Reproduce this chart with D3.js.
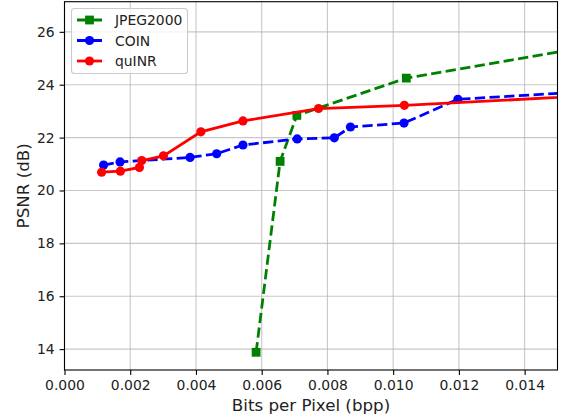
<!DOCTYPE html>
<html>
<head>
<meta charset="utf-8">
<title>PSNR vs bpp</title>
<script src="https://d3js.org/d3.v7.min.js"></script>
<style>
  body { margin: 0; background: #fff; }
  svg { display: block; font-family: "DejaVu Sans", sans-serif; }
</style>
</head>
<body>
<script>
// Data (bpp, PSNR dB)
var jpegX = [0.00583, 0.00656, 0.00707, 0.01040, 0.02090];
var jpegY = [13.88, 21.10, 22.84, 24.25, 26.50];

var coinX = [0.00119, 0.00169, 0.00382, 0.00463, 0.00543, 0.00708, 0.00821, 0.00870, 0.01033, 0.01197, 0.01800];
var coinY = [20.96, 21.08, 21.25, 21.39, 21.72, 21.95, 21.99, 22.40, 22.55, 23.45, 23.89];

var quinrX = [0.00113, 0.00170, 0.00228, 0.00235, 0.00301, 0.00415, 0.00543, 0.00773, 0.01034, 0.02000];
var quinrY = [20.69, 20.73, 20.87, 21.13, 21.31, 22.22, 22.63, 23.10, 23.22, 23.84];

var xTicks = [0, 0.002, 0.004, 0.006, 0.008, 0.010, 0.012, 0.014];
var yTicks = [14, 16, 18, 20, 22, 24, 26];

var series = [
  { name: "JPEG2000", xs: jpegX, ys: jpegY, color: "#008000", dash: "10.3,4.4", marker: "square" },
  { name: "COIN", xs: coinX, ys: coinY, color: "#0000ff", dash: "10.3,4.4", marker: "circle" },
  { name: "quINR", xs: quinrX, ys: quinrY, color: "#ff0000", dash: null, marker: "circle" }
];

var width = 568, height = 419;
var margin = { left: 64.5, right: 10.5, top: 1.7, bottom: 49 };

var svg = d3.select("body").append("svg")
    .attr("width", width)
    .attr("height", height);

var x = d3.scaleLinear().domain([0, 0.015]).range([margin.left, width - margin.right]);
var y = d3.scaleLinear().domain([13.21, 27.14]).range([height - margin.bottom, margin.top]);

// grid
svg.append("g").selectAll("line").data(xTicks).enter().append("line")
    .attr("x1", function(d) { return x(d); }).attr("x2", function(d) { return x(d); })
    .attr("y1", y.range()[0]).attr("y2", y.range()[1])
    .attr("stroke", "#b0b0b0").attr("stroke-opacity", 0.7).attr("stroke-width", 1.1);
svg.append("g").selectAll("line").data(yTicks).enter().append("line")
    .attr("y1", function(d) { return y(d); }).attr("y2", function(d) { return y(d); })
    .attr("x1", x.range()[0]).attr("x2", x.range()[1])
    .attr("stroke", "#b0b0b0").attr("stroke-opacity", 0.7).attr("stroke-width", 1.1);

// clip for the data
svg.append("clipPath").attr("id", "clip").append("rect")
    .attr("x", x.range()[0]).attr("y", y.range()[1])
    .attr("width", x.range()[1] - x.range()[0])
    .attr("height", y.range()[0] - y.range()[1]);

var plot = svg.append("g").attr("clip-path", "url(#clip)");

var line = d3.line()
    .x(function(d) { return x(d[0]); })
    .y(function(d) { return y(d[1]); });

function drawMarker(g, kind, color, cx, cy) {
  if (kind === "square") {
    g.append("rect").attr("x", cx - 4.4).attr("y", cy - 4.4)
      .attr("width", 8.8).attr("height", 8.8).attr("fill", color);
  } else {
    g.append("circle").attr("cx", cx).attr("cy", cy).attr("r", 4.6).attr("fill", color);
  }
}

series.forEach(function(s) {
  var pts = s.xs.map(function(v, i) { return [v, s.ys[i]]; });
  plot.append("path")
      .datum(pts)
      .attr("d", line)
      .attr("fill", "none")
      .attr("stroke", s.color)
      .attr("stroke-width", 2.78)
      .attr("stroke-dasharray", s.dash);
  var mg = plot.append("g");
  pts.forEach(function(p) { drawMarker(mg, s.marker, s.color, x(p[0]), y(p[1])); });
});

// axes
var xAxis = svg.append("g")
    .attr("transform", "translate(0," + y.range()[0] + ")")
    .call(d3.axisBottom(x).tickValues(xTicks).tickFormat(d3.format(".3f")).tickSizeOuter(0).tickSize(4.9).tickPadding(4.9));
var yAxis = svg.append("g")
    .attr("transform", "translate(" + x.range()[0] + ",0)")
    .call(d3.axisLeft(y).tickValues(yTicks).tickFormat(d3.format("d")).tickSizeOuter(0).tickSize(4.9).tickPadding(4.9));

[xAxis, yAxis].forEach(function(a) {
  a.select(".domain").remove();
  a.selectAll("line").attr("stroke", "#000").attr("stroke-width", 1.1);
  a.selectAll("text").attr("font-size", "13.9px").attr("fill", "#222").attr("font-family", "DejaVu Sans");
});

// frame
svg.append("rect")
    .attr("x", x.range()[0]).attr("y", y.range()[1])
    .attr("width", x.range()[1] - x.range()[0])
    .attr("height", y.range()[0] - y.range()[1])
    .attr("fill", "none").attr("stroke", "#000").attr("stroke-width", 1.1);

// axis labels
svg.append("text")
    .attr("x", (x.range()[0] + x.range()[1]) / 2)
    .attr("y", 411)
    .attr("text-anchor", "middle")
    .attr("font-size", "16.7px").attr("fill", "#222")
    .text("Bits per Pixel (bpp)");
svg.append("text")
    .attr("transform", "translate(29," + ((y.range()[0] + y.range()[1]) / 2) + ") rotate(-90)")
    .attr("text-anchor", "middle")
    .attr("font-size", "16.7px").attr("fill", "#222")
    .text("PSNR (dB)");

// legend
var lg = svg.append("g");
lg.append("rect")
    .attr("x", 71.5).attr("y", 8.5).attr("width", 116).attr("height", 65)
    .attr("rx", 3).attr("fill", "#fff").attr("fill-opacity", 0.8)
    .attr("stroke", "#cccccc").attr("stroke-width", 1.1);
series.forEach(function(s, i) {
  var cy = 20 + i * 20.5;
  lg.append("line")
      .attr("x1", 77).attr("x2", 102).attr("y1", cy).attr("y2", cy)
      .attr("stroke", s.color).attr("stroke-width", 2.78)
      .attr("stroke-dasharray", s.dash);
  drawMarker(lg, s.marker, s.color, 89.5, cy);
  lg.append("text")
      .attr("x", 115).attr("y", cy + 5)
      .attr("font-size", "13.9px").attr("fill", "#222")
      .text(s.name);
});
</script>
</body>
</html>
